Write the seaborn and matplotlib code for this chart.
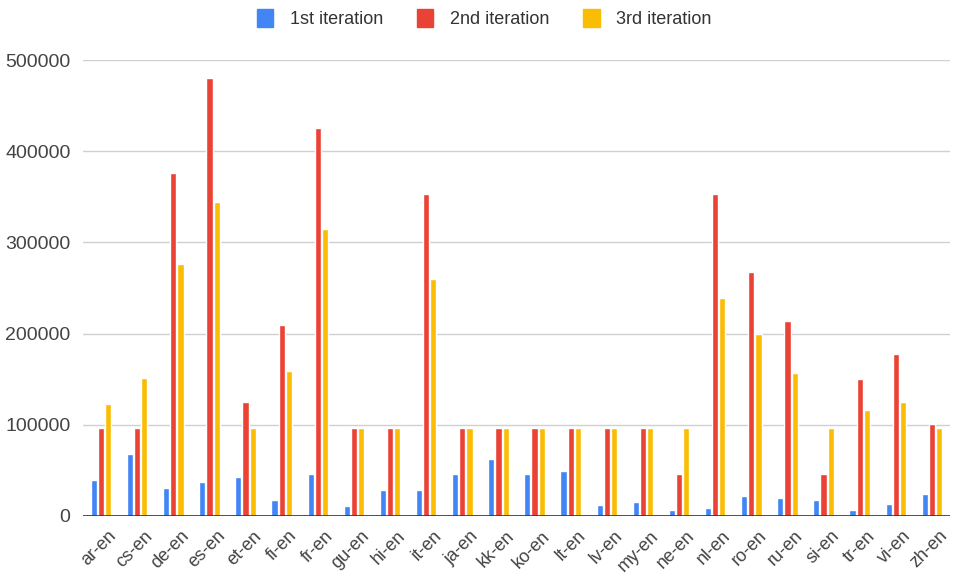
import pandas as pd
import matplotlib.pyplot as plt
import matplotlib.transforms as mtransforms
import seaborn as sns
from matplotlib.patches import Patch

# Language pairs and training sizes per iteration
pairs = ["ar-en", "cs-en", "de-en", "es-en", "et-en", "fi-en", "fr-en", "gu-en",
         "hi-en", "it-en", "ja-en", "kk-en", "ko-en", "lt-en", "lv-en", "my-en",
         "ne-en", "nl-en", "ro-en", "ru-en", "si-en", "tr-en", "vi-en", "zh-en"]

first_iter = [39000, 68500, 31000, 37700, 43000, 17000, 46500, 10600,
              28000, 28000, 46000, 63000, 46000, 49000, 12000, 15000,
              6600, 8400, 22000, 20000, 18000, 6600, 13500, 24000]
second_iter = [96000, 96000, 376500, 480000, 125000, 209000, 425000, 96000,
               96000, 353000, 96000, 96000, 96000, 96000, 96000, 96000,
               46000, 353000, 267000, 214000, 46000, 150000, 178000, 101000]
third_iter = [123000, 151000, 276000, 344000, 96000, 159000, 315000, 96000,
              96000, 260000, 96000, 96000, 96000, 96000, 96000, 96000,
              96000, 239000, 200000, 157000, 96000, 116000, 124500, 96000]

series_names = ["1st iteration", "2nd iteration", "3rd iteration"]
colors = ["#4285F4", "#EA4335", "#FBBC04"]

df = pd.DataFrame({"pair": pairs, series_names[0]: first_iter,
                   series_names[1]: second_iter, series_names[2]: third_iter})
long_df = df.melt(id_vars="pair", var_name="series", value_name="value")

sns.set_style("white")
plt.rcParams["font.family"] = ["Liberation Sans", "DejaVu Sans"]

fig = plt.figure(figsize=(9.55, 5.74), dpi=100)
ax = fig.add_axes([83 / 955, 1 - 516 / 574, 867 / 955, 456 / 574])

sns.barplot(data=long_df, x="pair", y="value", hue="series", order=pairs,
            hue_order=series_names, palette=colors, width=0.6, gap=0.15,
            saturation=1, legend=False, ax=ax)

ax.set_ylim(0, 500000)
ax.set_xlim(-0.5, len(pairs) - 0.5)
ax.set_yticks([0, 100000, 200000, 300000, 400000, 500000])
ax.set_yticklabels(["0", "100000", "200000", "300000", "400000", "500000"])
ax.yaxis.grid(True, color="#d0d0d0", linewidth=1)
ax.set_axisbelow(True)
ax.axhline(0, color="#333333", linewidth=1.2, zorder=5)
for s in ax.spines.values():
    s.set_visible(False)
ax.set_xlabel("")
ax.set_ylabel("")
ax.tick_params(axis="both", length=0, colors="#444444")
ax.tick_params(axis="y", pad=9, labelsize=14)
ax.tick_params(axis="x", pad=4, labelsize=13)

# nudge rotated labels a little right/down like the original
shift = mtransforms.ScaledTranslation(7 / 100, -6 / 100, fig.dpi_scale_trans)
for lbl in ax.get_xticklabels():
    lbl.set_rotation(45)
    lbl.set_ha("right")
    lbl.set_rotation_mode("anchor")
    lbl.set_transform(lbl.get_transform() + shift)

handles = [Patch(facecolor=c, edgecolor=c) for c in colors]
fig.legend(handles, series_names, loc="upper center", bbox_to_anchor=(0.507, 1.012),
           ncol=3, frameon=False, fontsize=13, handlelength=0.9, handleheight=1.1,
           columnspacing=1.9, handletextpad=0.9, labelcolor="#333333")

fig.savefig("out.png", dpi=100)
